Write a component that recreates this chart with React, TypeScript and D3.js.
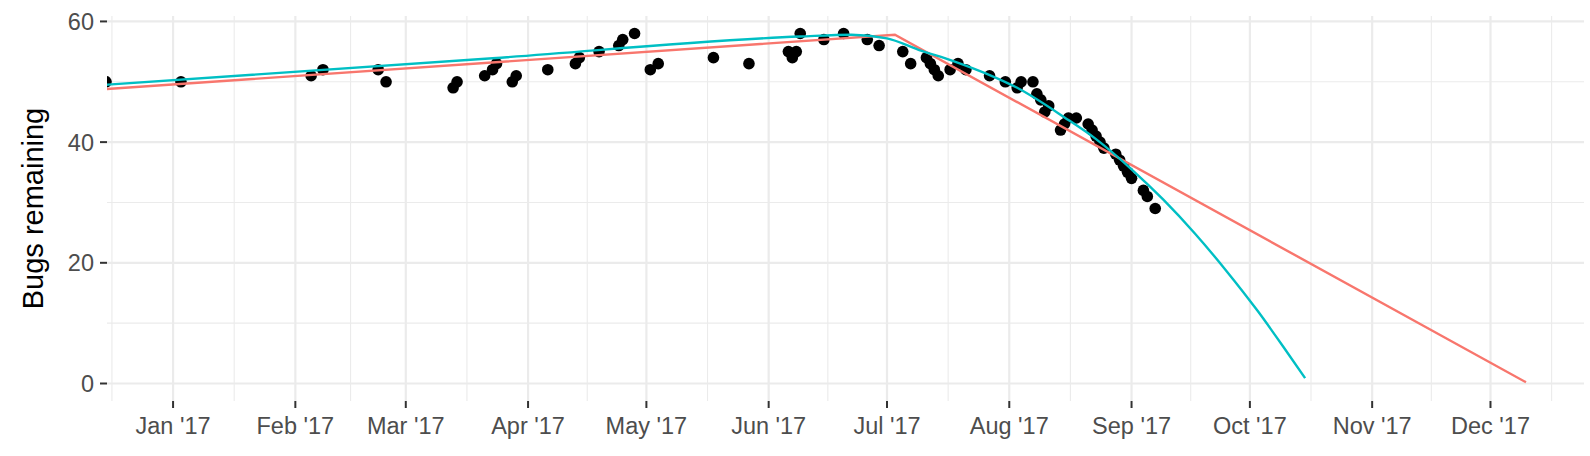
import React, { useEffect, useRef } from 'react';
import * as d3 from 'd3';

// observed bug counts
const bugDates = [
    '2016-12-15', '2017-01-03', '2017-02-05', '2017-02-08', '2017-02-22', '2017-02-24',
    '2017-03-13', '2017-03-14', '2017-03-21', '2017-03-23', '2017-03-24', '2017-03-28',
    '2017-03-29', '2017-04-06', '2017-04-13', '2017-04-14', '2017-04-19', '2017-04-24',
    '2017-04-25', '2017-04-28', '2017-05-02', '2017-05-04', '2017-05-18', '2017-05-27',
    '2017-06-06', '2017-06-07', '2017-06-08', '2017-06-09', '2017-06-15', '2017-06-20',
    '2017-06-26', '2017-06-29', '2017-07-05', '2017-07-07', '2017-07-11', '2017-07-12',
    '2017-07-13', '2017-07-14', '2017-07-17', '2017-07-19', '2017-07-21', '2017-07-27',
    '2017-07-31', '2017-08-03', '2017-08-04', '2017-08-07', '2017-08-08', '2017-08-09',
    '2017-08-10', '2017-08-11', '2017-08-14', '2017-08-15', '2017-08-16', '2017-08-18',
    '2017-08-21', '2017-08-22', '2017-08-23', '2017-08-24', '2017-08-25', '2017-08-28',
    '2017-08-29', '2017-08-30', '2017-08-31', '2017-09-01', '2017-09-04', '2017-09-05',
    '2017-09-07'
];
const bugCounts = [
    50, 50, 51, 52, 52, 50,
    49, 50, 51, 52, 53, 50,
    51, 52, 53, 54, 55, 56,
    57, 58, 52, 53, 54, 53,
    55, 54, 55, 58, 57, 58,
    57, 56, 55, 53, 54, 53,
    52, 51, 52, 53, 52, 51,
    50, 49, 50, 50, 48, 47,
    45, 46, 42, 43, 44, 44,
    43, 42, 41, 40, 39, 38,
    37, 36, 35, 34, 32, 31,
    29
];

// segmented linear fit (red)
const linearFitDates = ['2016-12-15', '2017-07-03', '2017-12-10'];
const linearFitValues = [48.8, 57.8, 0.2];

// curved fit (teal)
const curveFitDates = [
    '2016-12-15', '2017-03-23', '2017-06-09', '2017-06-22', '2017-07-01', '2017-07-09',
    '2017-07-18', '2017-07-26', '2017-08-03', '2017-08-15', '2017-08-23', '2017-09-01',
    '2017-09-09', '2017-09-17', '2017-09-25', '2017-10-03', '2017-10-10', '2017-10-15'
];
const curveFitValues = [
    49.5, 53.9, 57.5, 57.8, 57.2, 55.3,
    53.4, 51.4, 49.0, 44.1, 40.5, 35.5,
    30.5, 24.9, 18.7, 12.0, 5.6, 0.9
];

const yTicks = [0, 20, 40, 60];
const yMinorTicks = [10, 30, 50];
const monthTicks = [
    '2017-01-01', '2017-02-01', '2017-03-01', '2017-04-01', '2017-05-01', '2017-06-01',
    '2017-07-01', '2017-08-01', '2017-09-01', '2017-10-01', '2017-11-01', '2017-12-01'
];

const parseDate = d3.timeParse('%Y-%m-%d');
const FONT = '"Liberation Sans", Arial, Helvetica, sans-serif';

const App: React.FC = () => {
    const svgRef = useRef<SVGSVGElement>(null);

    useEffect(() => {
        if (!svgRef.current) return;

        const svg = d3.select(svgRef.current);
        svg.selectAll('*').remove();

        const left = 107;
        const right = 1584;
        const top = 16;
        const bottom = 401;

        const xScale = d3.scaleTime()
            .domain([new Date(2016, 11, 15, 6), new Date(2017, 11, 24, 17)])
            .range([left, right]);

        const yScale = d3.scaleLinear()
            .domain([-2.9, 60.9])
            .range([bottom, top]);

        const majors = monthTicks.map(d => parseDate(d) as Date);
        // minor breaks sit halfway between month breaks
        const extended = [d3.timeMonth.offset(majors[0], -1), ...majors, d3.timeMonth.offset(majors[majors.length - 1], 1)];
        const minors = d3.pairs(extended).map(([a, b]) => new Date((a.getTime() + b.getTime()) / 2));

        const grid = svg.append('g');

        grid.selectAll('line.ymin')
            .data(yMinorTicks)
            .enter().append('line')
            .attr('x1', left).attr('x2', right)
            .attr('y1', d => yScale(d)).attr('y2', d => yScale(d))
            .attr('stroke', '#EBEBEB').attr('stroke-width', 1.1);

        grid.selectAll('line.xmin')
            .data(minors)
            .enter().append('line')
            .attr('x1', d => xScale(d)).attr('x2', d => xScale(d))
            .attr('y1', top).attr('y2', bottom)
            .attr('stroke', '#EBEBEB').attr('stroke-width', 1.1);

        grid.selectAll('line.ymaj')
            .data(yTicks)
            .enter().append('line')
            .attr('x1', left).attr('x2', right)
            .attr('y1', d => yScale(d)).attr('y2', d => yScale(d))
            .attr('stroke', '#EBEBEB').attr('stroke-width', 2.2);

        grid.selectAll('line.xmaj')
            .data(majors)
            .enter().append('line')
            .attr('x1', d => xScale(d)).attr('x2', d => xScale(d))
            .attr('y1', top).attr('y2', bottom)
            .attr('stroke', '#EBEBEB').attr('stroke-width', 2.2);

        svg.append('clipPath')
            .attr('id', 'panel-clip')
            .append('rect')
            .attr('x', left).attr('y', top)
            .attr('width', right - left).attr('height', bottom - top);

        const panel = svg.append('g').attr('clip-path', 'url(#panel-clip)');

        // points
        panel.selectAll('circle')
            .data(bugDates.map((d, i) => ({ date: parseDate(d) as Date, value: bugCounts[i] })))
            .enter().append('circle')
            .attr('cx', d => xScale(d.date))
            .attr('cy', d => yScale(d.value))
            .attr('r', 5.8)
            .attr('fill', '#000000');

        const line = d3.line<{ date: Date; value: number }>()
            .x(d => xScale(d.date))
            .y(d => yScale(d.value));

        panel.append('path')
            .datum(linearFitDates.map((d, i) => ({ date: parseDate(d) as Date, value: linearFitValues[i] })))
            .attr('fill', 'none')
            .attr('stroke', '#F8766D')
            .attr('stroke-width', 2.4)
            .attr('d', line);

        panel.append('path')
            .datum(curveFitDates.map((d, i) => ({ date: parseDate(d) as Date, value: curveFitValues[i] })))
            .attr('fill', 'none')
            .attr('stroke', '#00BFC4')
            .attr('stroke-width', 2.4)
            .attr('d', line.curve(d3.curveMonotoneX));

        // y axis
        const yAxis = svg.append('g');
        yAxis.selectAll('line')
            .data(yTicks)
            .enter().append('line')
            .attr('x1', left - 7).attr('x2', left)
            .attr('y1', d => yScale(d)).attr('y2', d => yScale(d))
            .attr('stroke', '#333333').attr('stroke-width', 2);
        yAxis.selectAll('text')
            .data(yTicks)
            .enter().append('text')
            .attr('x', 94)
            .attr('y', d => yScale(d))
            .attr('dy', '0.36em')
            .attr('text-anchor', 'end')
            .attr('font-family', FONT)
            .attr('font-size', '23.5px')
            .attr('fill', '#4D4D4D')
            .text(d => String(d));

        // x axis
        const fmt = d3.timeFormat("%b '%y");
        const xAxis = svg.append('g');
        xAxis.selectAll('line')
            .data(majors)
            .enter().append('line')
            .attr('x1', d => xScale(d)).attr('x2', d => xScale(d))
            .attr('y1', bottom).attr('y2', bottom + 7)
            .attr('stroke', '#333333').attr('stroke-width', 2);
        xAxis.selectAll('text')
            .data(majors)
            .enter().append('text')
            .attr('x', d => xScale(d))
            .attr('y', 434)
            .attr('text-anchor', 'middle')
            .attr('font-family', FONT)
            .attr('font-size', '23.5px')
            .attr('fill', '#4D4D4D')
            .text(d => fmt(d));

        svg.append('text')
            .attr('transform', `translate(33, ${(top + bottom) / 2}) rotate(-90)`)
            .attr('dy', '0.35em')
            .attr('text-anchor', 'middle')
            .attr('font-family', FONT)
            .attr('font-size', '29px')
            .attr('fill', '#000000')
            .text('Bugs remaining');
    }, []);

    return (
        <svg
            ref={svgRef}
            width={1590}
            height={456}
            style={{ position: 'absolute', left: 0, top: 0, background: '#FFFFFF' }}
        />
    );
};

export default App;
